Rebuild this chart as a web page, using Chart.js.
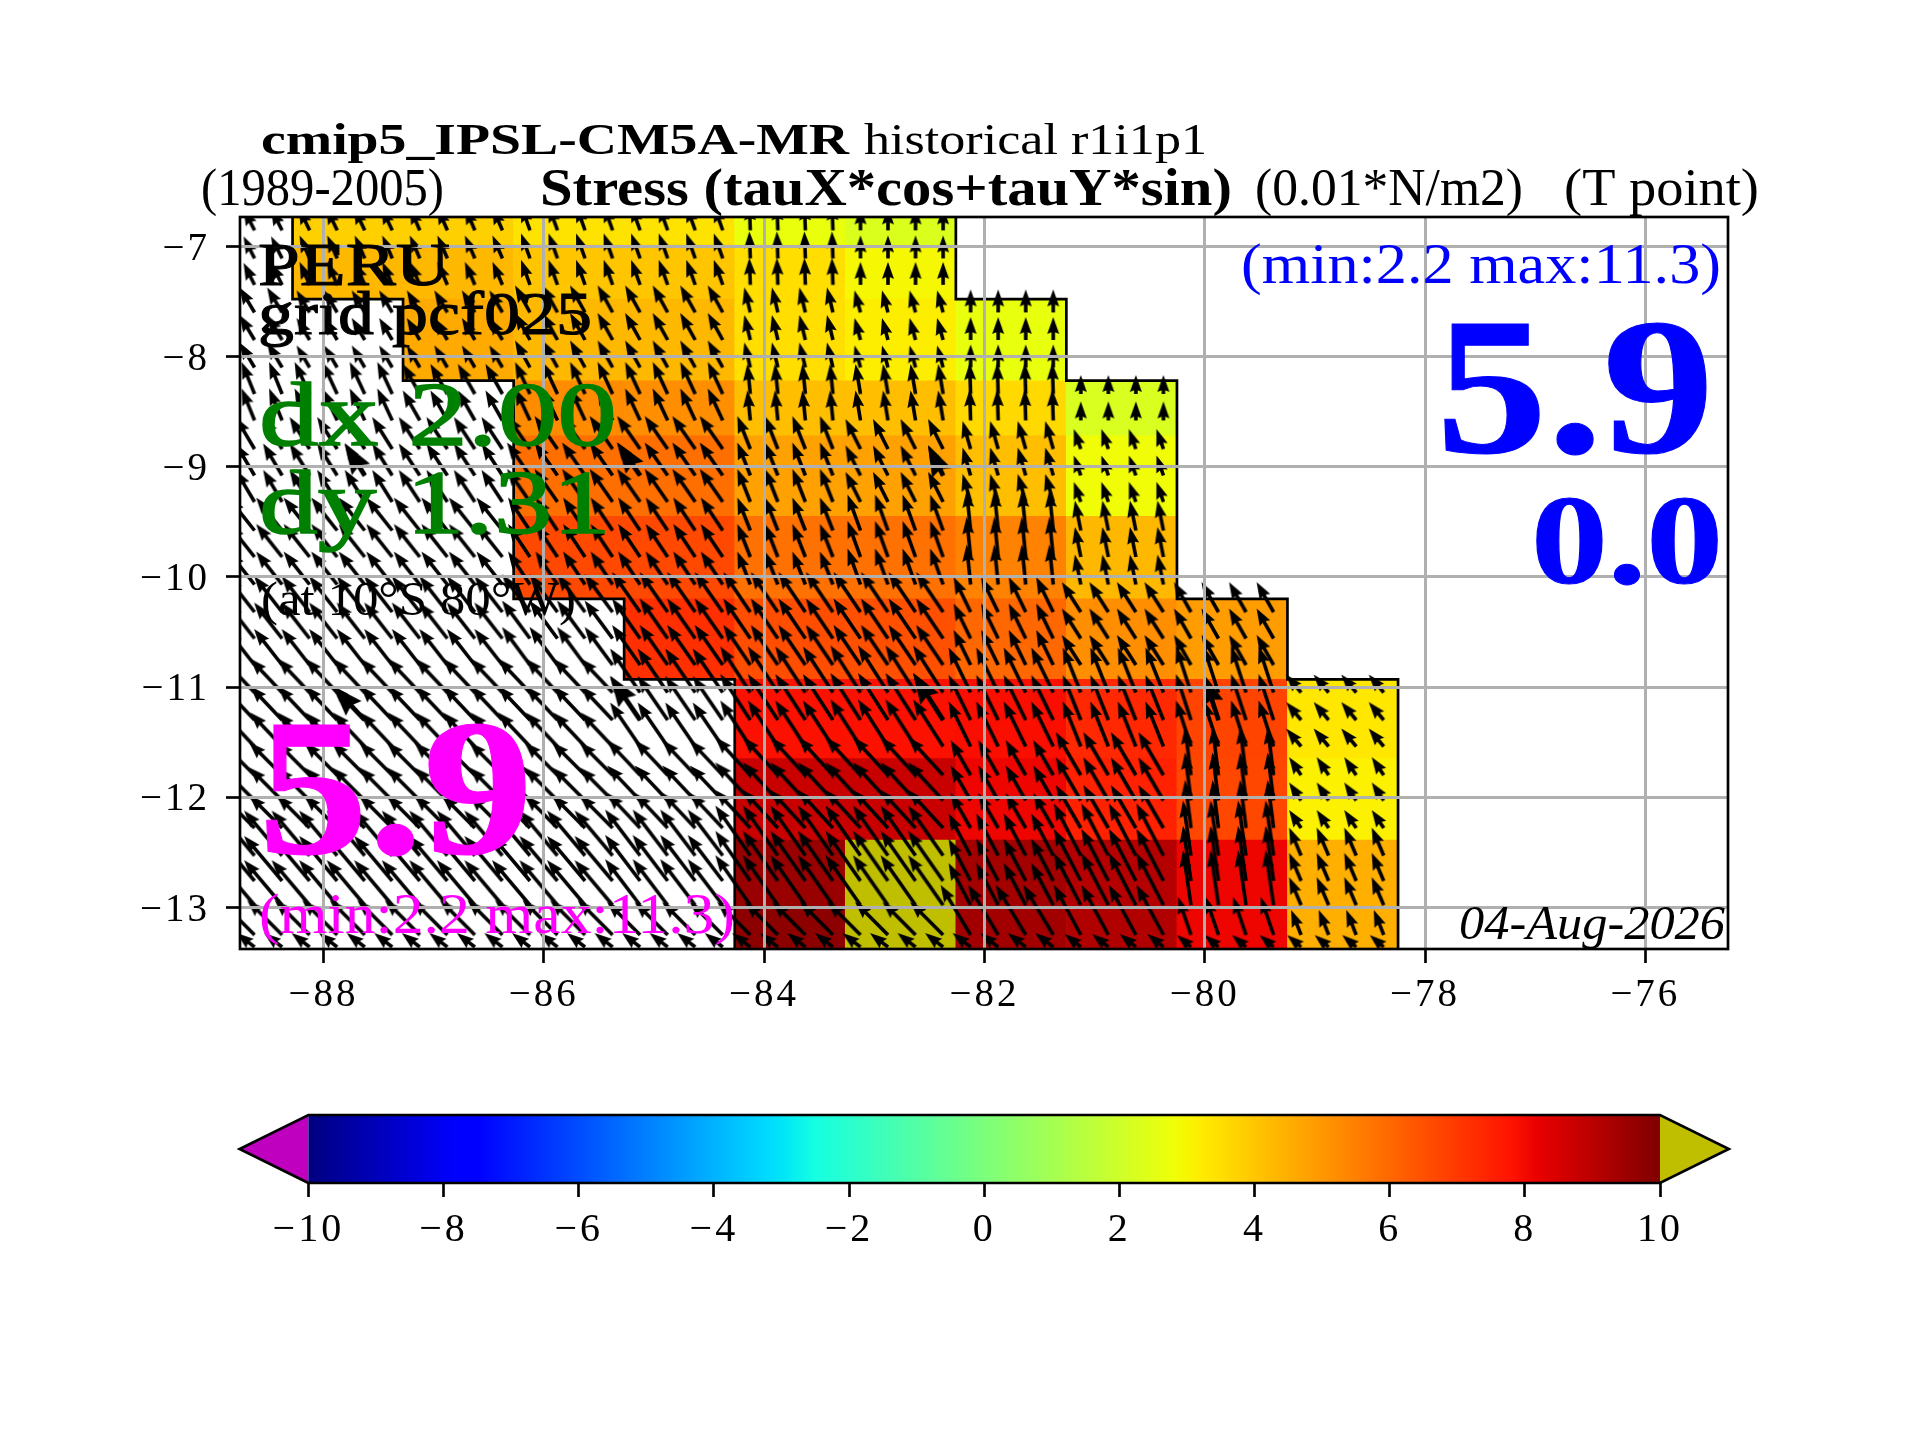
<!DOCTYPE html>
<html>
<head>
<meta charset="utf-8">
<title>Stress (tauX*cos+tauY*sin)</title>
<script src="https://cdn.jsdelivr.net/npm/chart.js@4.4.1/dist/chart.umd.js"></script>
<style>
html,body{margin:0;padding:0;background:#fff}
#wrap{position:relative;width:1920px;height:1440px}
canvas{position:absolute;left:0;top:0}
</style>
</head>
<body>
<div id="wrap">
<canvas id="mapChart" width="1920" height="1440"></canvas>
<canvas id="barChart" width="1920" height="1440"></canvas>
</div>
<script>
// tick labels
const lonTicks = [-88,-86,-84,-82,-80,-78,-76];
const latTicks = [-7,-8,-9,-10,-11,-12,-13];
const cbarTicks = [-10,-8,-6,-4,-2,0,2,4,6,8,10];

// axis limits
const lonRange = [-88.757,-75.25];
const latRange = [-13.378,-6.734];

// pcolormesh cells: centre of each 1 degree column and the row edges
const cellLons = [-87.778,-86.775,-85.772,-84.768,-83.765,-82.761,-81.758,-80.754,-79.751,-78.747];
const rowEdges = [-6.734,-6.99,-7.48,-8.22,-8.72,-9.45,-10.2,-10.93,-11.65,-12.39,-13.0,-13.378];

// stress values, one list per row (null = masked)
const row1 = [3.8,3.8,3.4,3.4,2.7,2.3,null,null,null,null];
const row2 = [4.3,4.3,4.0,4.0,3.5,2.95,null,null,null,null];
const row3 = [null,4.6,4.3,4.3,3.5,3.15,2.65,null,null,null];
const row4 = [null,null,5.25,5.2,4.15,4.15,3.6,2.25,null,null];
const row5 = [null,null,5.85,5.85,4.8,4.8,4.15,2.85,null,null];
const row6 = [null,null,6.65,6.65,5.8,5.8,5.45,4.3,null,null];
const row7 = [null,null,null,7.2,6.55,6.5,6.0,5.2,4.9,null];
const row8 = [null,null,null,null,7.85,7.85,7.9,7.35,6.75,3.3];
const row9 = [null,null,null,null,8.75,8.75,8.1,7.5,6.7,3.1];
const row10 = [null,null,null,null,9.56,11,9.38,9.1,8.1,4.5];
const row11 = [null,null,null,null,9.78,11,9.4,9.16,8.1,4.5];
const stressRows = [row1,row2,row3,row4,row5,row6,row7,row8,row9,row10,row11];

// quiver lattice (arrow tails)
const arrowLons = [-88.625,-88.375,-88.125,-87.875,-87.625,-87.375,-87.125,-86.875,-86.625,-86.375,-86.125,-85.875,-85.625,-85.375,
  -85.125,-84.875,-84.625,-84.375,-84.125,-83.875,-83.625,-83.375,-83.125,-82.875,-82.625,-82.375,-82.125,-81.875,-81.625,-81.375,
  -81.125,-80.875,-80.625,-80.375,-80.125,-79.875,-79.625,-79.375,-79.125,-78.875,-78.625,-78.375];
const arrowLats = [-6.855,-7.11,-7.35,-7.6,-7.85,-8.1,-8.34,-8.58,-8.84,-9.08,-9.32,-9.58,-9.82,-10.07,-10.32,-10.56,-10.8,
  -11.05,-11.3,-11.54,-11.8,-12.03,-12.28,-12.53,-12.76,-12.98,-13.25,-13.36];
// a few arrows are drawn heavier in the picture
const heavyLons = [-87.625,-85.125,-82.375,-79.875];
const heavyLats = [-9.08,-11.3];

// wind vectors per block: first entry is the strip west of the first column, then the ten columns
const uRows = [
  [-1.1,-1.1,-1.0,-0.9,-0.9,-0.1,0,null,null,null,null],
  [-1.1,-1.0,-1.0,-0.9,-0.9,-0.1,0,null,null,null,null],
  [-1.5,-1.3,-1.3,-1.5,-1.5,-0.6,-0.6,0,null,null,null],
  [-1.3,-1.5,-1.7,-1.5,-1.5,-0.3,-0.5,-0.1,0,null,null],
  [-1.9,-2.0,-2.1,-2.3,-2.3,-1.3,-1.5,-0.8,-0.7,null,null],
  [-2.6,-2.6,-2.6,-2.2,-2.2,-1.3,-1.3,-0.4,-0.6,null,null],
  [-2.8,-2.8,-2.8,-2.8,-2.8,-2.7,-2.7,-1.7,-1.9,-1.7,null],
  [-3.2,-3.2,-3.2,-3.2,-3.0,-3.0,-3.0,-2.2,-1.8,-1.5,-1.5],
  [-3.3,-3.3,-3.3,-3.3,-3.3,-3.5,-3.5,-2.0,-2.5,-0.6,-1.2],
  [-3.8,-3.8,-3.8,-3.8,-3.5,-3.5,-3.5,-2.2,-2.7,-0.8,-1.2],
  [-3.5,-3.5,-3.5,-3.5,-3.3,-3.3,-3.3,-3.0,-2.7,-1.3,-1.0],
  [-1.8,-1.8,-1.8,-1.8,-1.8,-1.8,-1.8,-1.8,-1.6,-1.4,-1.4]
];
const vRows = [
  [2.2,2.3,2.3,2.5,2.5,2.7,2.3,null,null,null,null],
  [2.2,2.3,2.3,2.5,2.5,2.7,2.3,null,null,null,null],
  [2.5,2.2,2.2,2.7,2.7,2.5,2.2,2.3,null,null,null],
  [3.2,3.2,3.0,3.2,3.2,3.0,3.0,3.1,1.9,null,null],
  [3.2,3.2,3.2,3.3,3.3,3.3,3.0,2.8,2.0,null,null],
  [3.3,3.3,3.3,3.3,3.3,3.3,3.6,4.0,3.0,null,null],
  [3.6,3.6,3.6,3.8,4.0,4.0,4.0,3.5,3.0,3.0,null],
  [3.4,3.4,3.4,3.4,4.4,4.6,4.7,4.5,4.5,4.6,1.8],
  [3.3,3.3,3.3,3.3,3.5,3.8,3.8,3.5,4.3,4.8,1.8],
  [4.5,4.5,4.5,4.5,4.6,5.0,5.0,4.2,5.2,5.5,2.8],
  [3.5,3.5,3.5,3.5,3.3,3.3,3.3,5.0,5.0,3.8,2.5],
  [1.4,1.4,1.4,1.4,1.4,1.4,1.4,1.4,1.3,1.2,1.2]
];
const blockEdges = [-6.734,-6.99,-7.48,-8.22,-8.72,-9.45,-10.2,-10.93,-11.65,-12.39,-13.0,-13.3,-13.378];
const blockWest = [-88.757,-88.28,-87.277,-86.273,-85.27,-84.266,-83.263,-82.259,-81.256,-80.252,-79.249,-78.245];

// mask outline
const westCoastLon = [-88.28,-88.28,-87.277,-87.277,-86.273,-86.273,-85.27,-85.27,-84.266,-84.266];
const westCoastLat = [-6.734,-7.48,-7.48,-8.22,-8.22,-10.2,-10.2,-10.93,-10.93,-13.378];
const eastCoastLon = [-82.259,-82.259,-81.256,-81.256,-80.252,-80.252,-79.249,-79.249,-78.245,-78.245];
const eastCoastLat = [-6.734,-7.48,-7.48,-8.22,-8.22,-10.2,-10.2,-10.93,-10.93,-13.378];

// jet colormap of matplotlib, with the extend colours
const jetRed = [[0,0],[.35,0],[.66,1],[.89,1],[1,.5]];
const jetGreen = [[0,0],[.125,0],[.375,1],[.64,1],[.91,0],[1,0]];
const jetBlue = [[0,.5],[.11,1],[.34,1],[.65,0],[1,0]];
const cbarBreaks = [0,.11,.125,.34,.35,.375,.64,.65,.66,.89,.91,1];
const overColor = '#bfbf00';
const underColor = '#bf00bf';

function lerp(tab,t){
  for(let i=1;i<tab.length;i++){
    if(t<=tab[i][0]){
      const k=(t-tab[i-1][0])/(tab[i][0]-tab[i-1][0]);
      return tab[i-1][1]+k*(tab[i][1]-tab[i-1][1]);
    }
  }
  return tab[tab.length-1][1];
}
function jet(v){
  if(v>10) return overColor;
  if(v<-10) return underColor;
  const t=(v+10)/20;
  const c=[jetRed,jetGreen,jetBlue].map(tab=>Math.round(lerp(tab,t)*255));
  return 'rgb('+c[0]+','+c[1]+','+c[2]+')';
}

// cells as floating bars
const cellData=[];
const cellColors=[];
stressRows.forEach((row,r)=>{
  row.forEach((val,c)=>{
    if(val===null) return;
    cellData.push({x:cellLons[c],y:[rowEdges[r+1],rowEdges[r]]});
    cellColors.push(jet(val));
  });
});

// arrows, the vector comes from the block that holds the tail
function blockIndex(edges,val,descending){
  for(let i=1;i<edges.length;i++){
    if(descending ? val>edges[i] : val<edges[i]) return i-1;
  }
  return edges.length-2;
}
function arrowsFor(lons,lats,heavy){
  const out=[];
  lats.forEach(lat=>{
    const b=blockIndex(blockEdges,lat,true);
    lons.forEach(lon=>{
      const c=blockIndex(blockWest,lon,false);
      const u=uRows[b][c];
      if(u===null) return;
      out.push({x:lon,y:lat,u:u,v:vRows[b][c],heavy:heavy});
    });
  });
  return out;
}
const arrowData=arrowsFor(arrowLons,arrowLats,false);
const heavyData=arrowsFor(heavyLons,heavyLats,true);

// quiver glyph: canvas with the tail in the middle, so the point sits on the tail
const arrowScale=10;
const glyphs={};
function arrowGlyph(d){
  const key=d.u+'/'+d.v+'/'+d.heavy;
  if(glyphs[key]) return glyphs[key];
  const len=Math.hypot(d.u,d.v)*arrowScale;
  const size=Math.ceil(2*len+40);
  const cv=document.createElement('canvas');
  cv.width=size;cv.height=size;
  const g=cv.getContext('2d');
  g.translate(size/2,size/2);
  g.rotate(Math.atan2(-d.v,d.u));
  const k=Math.min(1,len/17)*(d.heavy?1.8:1);
  const hl=17*k,ha=15.3*k,hw=6*k,sw=1.8*(d.heavy?1.3:1);
  g.beginPath();
  g.moveTo(0,-sw);g.lineTo(len-ha,-sw);g.lineTo(len-hl,-hw);g.lineTo(len,0);
  g.lineTo(len-hl,hw);g.lineTo(len-ha,sw);g.lineTo(0,sw);
  g.closePath();
  g.fillStyle='#000';
  g.fill();
  glyphs[key]=cv;
  return cv;
}

function minusLabel(v){
  return String(v).replace('-','\u2212');
}

// all the annotation text, fitted to the width it has in the figure
const serif='"Liberation Serif"';
const figureTexts=[
  {t:'cmip5_IPSL-CM5A-MR',x:261,y:154,w:588,font:'bold 44px '+serif,c:'#000'},
  {t:'historical r1i1p1',x:864,y:154,w:343,font:'44px '+serif,c:'#000'},
  {t:'(1989-2005)',x:201,y:205,w:243,font:'52px '+serif,c:'#000'},
  {t:'Stress (tauX*cos+tauY*sin)',x:540,y:205,w:692,font:'bold 52px '+serif,c:'#000'},
  {t:'(0.01*N/m2)',x:1255,y:205,w:268,font:'52px '+serif,c:'#000'},
  {t:'(T point)',x:1564,y:205,w:195,font:'52px '+serif,c:'#000'},
  {t:'PERU',x:258,y:285,w:192,font:'61px '+serif,c:'#000',s:1},
  {t:'grid pcf025',x:258,y:334,w:334,font:'61px '+serif,c:'#000',s:1},
  {t:'dx 2.00',x:259,y:445,w:358,font:'92px '+serif,c:'#008000',s:1.5},
  {t:'dy 1.31',x:259,y:533,w:352,font:'92px '+serif,c:'#008000',s:1.5},
  {t:'(at 10\u00b0S 80\u00b0W)',x:261,y:615,w:315,font:'48px '+serif,c:'#000'},
  {t:'5.9',x:258,y:853,w:275,font:'bold 194px '+serif,c:'#ff00ff',s:1},
  {t:'(min:2.2 max:11.3)',x:259,y:933,w:476,font:'57px '+serif,c:'#ff00ff'},
  {t:'(min:2.2 max:11.3)',x:1241,y:283,w:480,font:'57px '+serif,c:'#0000ff'},
  {t:'5.9',x:1436,y:452,w:278,font:'bold 194px '+serif,c:'#0000ff',s:1},
  {t:'0.0',x:1531,y:583,w:192,font:'bold 128px '+serif,c:'#0000ff',s:1},
  {t:'04-Aug-2026',x:1459,y:939,w:266,font:'italic 49px '+serif,c:'#000'}
];

// widen the tick labels a little, Computer Modern runs wider than the installed serif
const tickSpacing={
  id:'tickSpacing',
  beforeDraw(chart){chart.ctx.letterSpacing='3px';}
};

const mapDecor={
  id:'mapDecor',
  afterDraw(chart){
    const ctx=chart.ctx;
    const a=chart.chartArea;
    ctx.save();
    ctx.letterSpacing='0px';
    ctx.lineWidth=2.67;
    ctx.strokeStyle='#000';
    ctx.strokeRect(a.left,a.top,a.right-a.left,a.bottom-a.top);
    ctx.textAlign='left';
    ctx.textBaseline='alphabetic';
    figureTexts.forEach(d=>{
      ctx.font=d.font;
      ctx.fillStyle=d.c;
      const m=ctx.measureText(d.t).width;
      ctx.save();
      ctx.translate(d.x,d.y);
      ctx.scale(d.w/m,1);
      ctx.fillText(d.t,0,0);
      if(d.s){
        ctx.strokeStyle=d.c;
        ctx.lineWidth=d.s;
        ctx.strokeText(d.t,0,0);
      }
      ctx.restore();
    });
    ctx.restore();
  }
};

const tickFont={family:'Liberation Serif',size:39};
const gridStyle={color:'#b0b0b0',lineWidth:3,tickColor:'#000',tickWidth:2.67,tickLength:14,offset:false,z:1};

new Chart(document.getElementById('mapChart'),{
  type:'scatter',
  data:{
    datasets:[
      {
        label:'heavy vectors',
        data:heavyData,
        order:0,
        pointRadius:1,
        pointStyle:c=>arrowGlyph(c.raw)
      },
      {
        label:'stress vectors',
        data:arrowData,
        order:0,
        pointRadius:1,
        pointStyle:c=>arrowGlyph(c.raw)
      },
      {
        label:'west mask',
        data:westCoastLon.map((x,i)=>({x:x,y:westCoastLat[i]})),
        showLine:true,order:1,pointRadius:0,borderColor:'#000',borderWidth:2.7,
        borderJoinStyle:'miter'
      },
      {
        label:'east mask',
        data:eastCoastLon.map((x,i)=>({x:x,y:eastCoastLat[i]})),
        showLine:true,order:1,pointRadius:0,borderColor:'#000',borderWidth:2.7,
        borderJoinStyle:'miter'
      },
      {
        type:'bar',
        label:'stress',
        data:cellData,
        order:2,
        grouped:false,
        barPercentage:1,
        categoryPercentage:1,
        backgroundColor:cellColors
      }
    ]
  },
  options:{
    responsive:false,
    animation:false,
    devicePixelRatio:1,
    events:[],
    layout:{padding:{top:217,right:192,left:0,bottom:0}},
    plugins:{legend:{display:false},tooltip:{enabled:false}},
    scales:{
      x:{
        type:'linear',min:lonRange[0],max:lonRange[1],offset:false,
        afterBuildTicks:s=>{s.ticks=lonTicks.map(v=>({value:v}));},
        afterFit:s=>{s.height=491;},
        grid:gridStyle,
        border:{display:false},
        ticks:{font:tickFont,color:'#000',padding:9,maxRotation:0,autoSkip:false,callback:minusLabel}
      },
      y:{
        type:'linear',min:latRange[0],max:latRange[1],
        afterBuildTicks:s=>{s.ticks=latTicks.map(v=>({value:v}));},
        afterFit:s=>{s.width=240;},
        grid:gridStyle,
        border:{display:false},
        ticks:{font:tickFont,color:'#000',padding:16,labelOffset:3,autoSkip:false,callback:minusLabel}
      }
    }
  },
  plugins:[tickSpacing,mapDecor]
});

// colorbar, the two triangles are the extend arrows
const extendTip=11.018;
const barLon=[-10,10,10,-10,-10];
const barLevel=[0,0,1,1,0];
const lowLon=[-10,-extendTip,-10,-10];
const lowLevel=[0,.5,1,0];
const highLon=[10,extendTip,10,10];
const highLevel=[0,.5,1,0];
const edgeLon=[-10,-extendTip,-10,10,extendTip,10,-10];
const edgeLevel=[0,.5,1,1,.5,0,0];

function xy(xs,ys){return xs.map((x,i)=>({x:x,y:ys[i]}));}

function barGradient(c){
  const chart=c.chart;
  if(!chart.chartArea) return '#000';
  const sx=chart.scales.x;
  const g=chart.ctx.createLinearGradient(sx.getPixelForValue(-10),0,sx.getPixelForValue(10),0);
  cbarBreaks.forEach(t=>g.addColorStop(t,jet(t*20-10)));
  return g;
}

new Chart(document.getElementById('barChart'),{
  type:'scatter',
  data:{
    datasets:[
      {data:xy(edgeLon,edgeLevel),showLine:true,order:0,pointRadius:0,borderColor:'#000',borderWidth:2.67,clip:false,borderJoinStyle:'miter'},
      {data:xy(barLon,barLevel),showLine:true,order:1,pointRadius:0,borderWidth:0,fill:'shape',backgroundColor:barGradient,clip:false},
      {data:xy(lowLon,lowLevel),showLine:true,order:1,pointRadius:0,borderWidth:0,fill:'shape',backgroundColor:underColor,clip:false},
      {data:xy(highLon,highLevel),showLine:true,order:1,pointRadius:0,borderWidth:0,fill:'shape',backgroundColor:overColor,clip:false}
    ]
  },
  options:{
    responsive:false,
    animation:false,
    devicePixelRatio:1,
    events:[],
    layout:{padding:{top:1115,right:191.2,left:239.6,bottom:0}},
    plugins:{legend:{display:false},tooltip:{enabled:false}},
    scales:{
      x:{
        type:'linear',min:-extendTip,max:extendTip,
        afterBuildTicks:s=>{s.ticks=cbarTicks.map(v=>({value:v}));},
        afterFit:s=>{s.height=257;},
        grid:{drawOnChartArea:false,tickColor:'#000',tickWidth:2.67,tickLength:14},
        border:{display:false},
        ticks:{font:{family:'Liberation Serif',size:40},color:'#000',padding:9,maxRotation:0,autoSkip:false,callback:minusLabel}
      },
      y:{display:false,min:0,max:1}
    }
  },
  plugins:[tickSpacing]
});
</script>
</body>
</html>
